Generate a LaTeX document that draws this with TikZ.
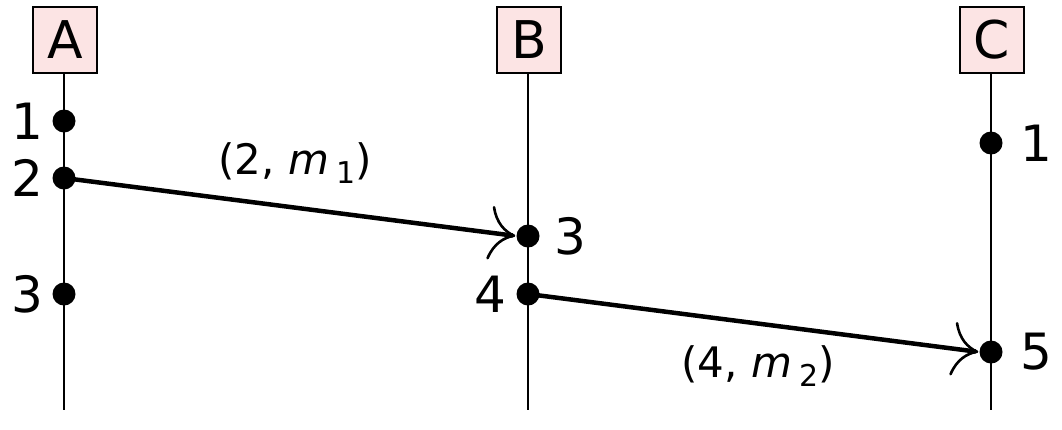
\documentclass[tikz,border=0pt]{standalone}
\usepackage{fontspec}
\setmainfont{DejaVu Sans}
\usetikzlibrary{arrows.meta}
\definecolor{boxpink}{HTML}{FCE4E4}
\newcommand{\msub}[1]{\raisebox{-0.22em}{\fontsize{30}{30}\selectfont #1}}
\begin{document}
\begin{tikzpicture}[x=1pt,y=-1pt,
  proc/.style={draw=black,line width=1.6pt,fill=boxpink,minimum width=64pt,minimum height=66pt,inner sep=0pt,font=\fontsize{52}{58}\selectfont},
  lifeline/.style={line width=2pt},
  ev/.style={circle,fill=black,inner sep=0pt,minimum size=23pt},
  num/.style={font=\fontsize{50}{56}\selectfont,inner sep=0pt},
  msg/.style={line width=4.5pt,-{Computer Modern Rightarrow[length=26pt,width=54pt,line width=2.6pt]},shorten >=1pt},
  lbl/.style={font=\fontsize{42}{48}\selectfont,inner sep=0pt}]
\useasboundingbox (0,0) rectangle (1062,429);
% processes
\node[proc] (A) at (65,40) {A};
\node[proc] (B) at (529,40) {B};
\node[proc] (C) at (992,40) {C};
\coordinate (Aend) at (64,410);
\coordinate (Bend) at (528,410);
\coordinate (Cend) at (991,410);
\draw[lifeline] (A.south -| Aend) -- (Aend);
\draw[lifeline] (B.south -| Bend) -- (Bend);
\draw[lifeline] (C.south -| Cend) -- (Cend);
% events
\node[ev] (a1) at (64,121) {};
\node[ev] (a2) at (64,178) {};
\node[ev] (a3) at (64,294) {};
\node[ev] (b3) at (528,236) {};
\node[ev] (b4) at (528,294) {};
\node[ev] (c1) at (991,143) {};
\node[ev] (c5) at (991,352) {};
% numbers
\node[num] (na1) at (27,121) {1};
\node[num] (na2) at (27,178) {2};
\node[num] (na3) at (27,294) {3};
\node[num] (nb3) at (570,236) {3};
\node[num] (nb4) at (490,294) {4};
\node[num] (nc1) at (1036,143) {1};
\node[num] (nc5) at (1036,352) {5};
% messages
\draw[msg] (a2.center) -- (b3.west);
\draw[msg] (b4.center) -- (c5.west);
\node[lbl] (l1) at (295,163) {(2, \textit{m}\,\msub{1})};
\node[lbl] (l2) at (758,366) {(4, \textit{m}\,\msub{2})};
\end{tikzpicture}
\end{document}
